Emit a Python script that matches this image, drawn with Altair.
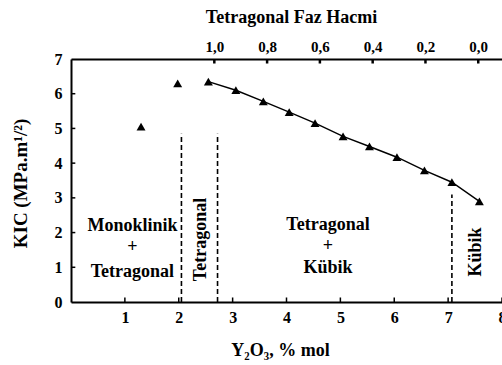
import altair as alt
import pandas as pd

# ---- data ----
free_x = [1.3, 1.98]
free_y = [5.05, 6.3]
line_x = [2.55, 3.06, 3.57, 4.05, 4.53, 5.05, 5.54, 6.05, 6.56, 7.07, 7.58]
line_y = [6.35, 6.1, 5.78, 5.47, 5.15, 4.77, 4.48, 4.17, 3.79, 3.45, 2.9]

dash_x = [2.05, 2.72, 7.07]
dash_top = [4.85, 4.85, 3.1]

x_ticks = [1, 2, 3, 4, 5, 6, 7, 8]
y_ticks = [0, 1, 2, 3, 4, 5, 6, 7]
top_ticks = [1.0, 0.8, 0.6, 0.4, 0.2, 0.0]

h_text = ["Monoklinik", "+", "Tetragonal", "Tetragonal", "+", "Kübik"]
h_text_x = [1.14, 1.14, 1.14, 4.77, 4.77, 4.77]
h_text_y = [2.19, 1.59, 0.87, 2.22, 1.62, 0.97]

v_text = ["Tetragonal", "Kübik"]
v_text_x = [2.41, 7.51]
v_text_y = [1.8, 1.44]

# ---- style constants ----
FONT = "Liberation Serif"
TICK_LEN_Y = 0.13
TICK_LEN_X = 0.08

pts = pd.DataFrame({"x": free_x + line_x, "y": free_y + line_y})
ln = pd.DataFrame({"x": line_x, "y": line_y})
dash = pd.DataFrame({"x": dash_x, "y": [0] * len(dash_x), "y2": dash_top})
htxt = pd.DataFrame({"t": h_text, "x": h_text_x, "y": h_text_y})
vtxt = pd.DataFrame({"t": v_text, "x": v_text_x, "y": v_text_y})
bt = pd.DataFrame({"x": x_ticks, "y": [0] * len(x_ticks), "y2": [TICK_LEN_Y] * len(x_ticks)})
lt = pd.DataFrame({"y": y_ticks[1:-1], "x": [0] * (len(y_ticks) - 2),
                   "x2": [TICK_LEN_X] * (len(y_ticks) - 2)})
tt = pd.DataFrame({"v": top_ticks, "y": [7] * len(top_ticks),
                   "y2": [7 - TICK_LEN_Y] * len(top_ticks)})

xscale = alt.Scale(domain=[0, 8], nice=False, zero=False)
yscale = alt.Scale(domain=[0, 7], nice=False, zero=False)

xaxis = alt.Axis(
    orient="bottom", values=x_ticks, format="d", ticks=False, grid=False,
    domainColor="black", domainWidth=2, labelFont=FONT, labelFontSize=16,
    labelFontWeight="bold", labelColor="black", labelPadding=7,
    title="Y₂O₃, % mol", titleFont=FONT, titleFontSize=18, titleFontWeight="bold",
    titleColor="black", titleX=209, titleY=48, titleBaseline="middle",
    titleAlign="center", labelFlush=False, labelOverlap=False,
)
yaxis = alt.Axis(
    orient="left", values=y_ticks, format="d", ticks=False, grid=False,
    domainColor="black", domainWidth=2, labelFont=FONT, labelFontSize=16,
    labelFontWeight="bold", labelColor="black", labelPadding=9,
    title="KIC (MPa.m¹/²)", titleFont=FONT, titleFontSize=19,
    titleFontWeight="bold", titleColor="black", titleX=-51, titleY=124,
    titleAngle=270, titleAlign="center", titleBaseline="middle",
    labelFlush=False, labelOverlap=False,
)

X = lambda f="x": alt.X(f"{f}:Q", scale=xscale, axis=xaxis)
Y = lambda f="y": alt.Y(f"{f}:Q", scale=yscale, axis=yaxis)

points = alt.Chart(pts).mark_point(
    shape="triangle-up", filled=True, color="black", size=80, opacity=1
).encode(x=X(), y=Y())

line = alt.Chart(ln).mark_line(color="black", strokeWidth=1.4).encode(x=X(), y=Y())

dashes = alt.Chart(dash).mark_rule(
    color="black", strokeWidth=1.6, strokeDash=[5, 3]
).encode(x=X(), y=Y(), y2="y2:Q")

hlabels = alt.Chart(htxt).mark_text(
    font=FONT, fontSize=18, fontWeight="bold", color="black",
    align="center", baseline="middle"
).encode(x=X(), y=Y(), text="t:N")

vlabels = alt.Chart(vtxt).mark_text(
    font=FONT, fontSize=18, fontWeight="bold", color="black",
    align="center", baseline="middle", angle=270
).encode(x=X(), y=Y(), text="t:N")

bticks = alt.Chart(bt).mark_rule(color="black", strokeWidth=1.5).encode(
    x=X(), y=Y(), y2="y2:Q")

lticks = alt.Chart(lt).mark_rule(color="black", strokeWidth=1.5).encode(
    x=X(), x2="x2:Q", y=Y())

main = alt.layer(dashes, line, points, hlabels, vlabels, bticks, lticks)

top = alt.Chart(tt).mark_rule(color="black", strokeWidth=2.5).encode(
    x=alt.X("v:Q", scale=alt.Scale(domain=[1.543, -0.090], nice=False, zero=False),
            axis=alt.Axis(
                orient="top", values=top_ticks, ticks=False, grid=False,
                labelExpr="replace(format(datum.value, '.1f'), '.', ',')",
                domainColor="black", domainWidth=2, labelFont=FONT,
                labelFontSize=15, labelFontWeight="bold", labelColor="black",
                labelPadding=5, title="Tetragonal Faz Hacmi", titleFont=FONT,
                titleFontSize=18, titleFontWeight="bold", titleColor="black",
                titleX=220, titleY=-42, titleBaseline="middle",
                titleAlign="center", labelFlush=False, labelOverlap=False)),
    y=Y(), y2="y2:Q",
)

chart = alt.layer(main, top).resolve_scale(x="independent").properties(
    width=431, height=243,
    autosize=alt.AutoSizeParams(type="none"),
    padding={"left": 71, "top": 59, "right": 0, "bottom": 63},
).configure_view(stroke=None).configure(background="white")

chart.save("out.html", embed_options={"renderer": "svg", "actions": False})
